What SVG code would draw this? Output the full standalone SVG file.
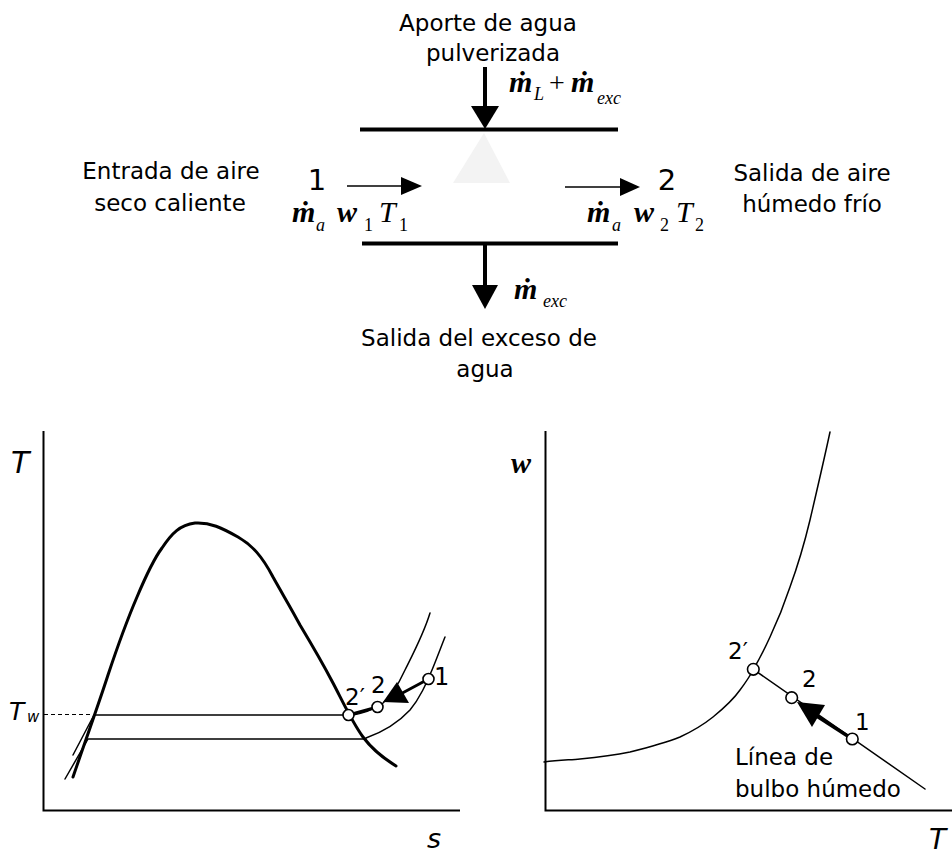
<svg xmlns="http://www.w3.org/2000/svg" width="952" height="855" viewBox="0 0 952 855">
<style>
.lbl{font-family:"DejaVu Sans","Liberation Sans",sans-serif;font-size:23px;fill:#000}
.num{font-family:"DejaVu Sans","Liberation Sans",sans-serif;font-size:29px;fill:#000}
.pt{font-family:"DejaVu Sans","Liberation Sans",sans-serif;font-size:23px;fill:#000}
.ax{font-family:"DejaVu Sans","Liberation Sans",sans-serif;font-style:italic;fill:#000}
.mb{font-family:"Liberation Serif","DejaVu Serif",serif;font-style:italic;font-weight:bold;font-size:30px;fill:#000}
.mi{font-family:"Liberation Serif","DejaVu Serif",serif;font-style:italic;font-size:18px;fill:#000}
.mr{font-family:"Liberation Serif","DejaVu Serif",serif;font-size:18px;fill:#000}
.thick{fill:none;stroke:#000;stroke-width:4}
.axis{fill:none;stroke:#000;stroke-width:2}
.thin{fill:none;stroke:#000;stroke-width:1.5;stroke-linejoin:round;stroke-linecap:round}
.heavy{fill:none;stroke:#000;stroke-width:3;stroke-linejoin:round;stroke-linecap:round}
.dot{fill:#fff;stroke:#000;stroke-width:1.6}
.head{fill:#000;stroke:none}
</style>

<!-- Top: humidifier scheme -->
<g id="humidifier">
  <polygon points="484,133 453,183 510,183" fill="#f3f3f3"/>
  <line class="thick" x1="360" y1="129.5" x2="618" y2="129.5"/>
  <line class="thick" x1="362" y1="243.5" x2="618" y2="243.5"/>
</g>

<g id="connectors">
  <line x1="485" y1="67" x2="485" y2="108" stroke="#000" stroke-width="4"/>
  <polygon class="head" points="471,106 499,106 485,129"/>
  <line x1="485" y1="243" x2="485" y2="287" stroke="#000" stroke-width="4"/>
  <polygon class="head" points="472,285 498,285 485,309"/>
  <line x1="347" y1="186" x2="403" y2="186" stroke="#000" stroke-width="1.5"/>
  <polygon class="head" points="401,177 422,186 401,195"/>
  <line x1="565" y1="187" x2="622" y2="187" stroke="#000" stroke-width="1.5"/>
  <polygon class="head" points="620,178 640,187 620,196"/>
</g>

<g id="label-aporte">
  <text class="lbl" x="488" y="31" text-anchor="middle">Aporte de agua</text>
  <text class="lbl" x="493" y="61" text-anchor="middle">pulverizada</text>
  <text class="mb" x="509" y="92">ṁ</text><text class="mi" x="534" y="100">L</text>
  <text class="mr" x="549" y="92" style="font-size:28px">+</text>
  <text class="mb" x="571" y="92">ṁ</text><text class="mi" x="597" y="104">exc</text>
</g>

<g id="label-entrada">
  <text class="lbl" x="171" y="179" text-anchor="middle">Entrada de aire</text>
  <text class="lbl" x="170" y="211" text-anchor="middle">seco caliente</text>
  <text class="num" x="317" y="190" text-anchor="middle">1</text>
  <text class="mb" x="292" y="222">ṁ</text><text class="mi" x="316" y="231">a</text>
  <text class="mb" x="337" y="222">w</text><text class="mr" x="364" y="231">1</text>
  <text class="mb" x="379" y="222" style="font-weight:normal">T</text><text class="mr" x="399" y="231">1</text>
</g>

<g id="label-salida">
  <text class="lbl" x="812" y="181" text-anchor="middle">Salida de aire</text>
  <text class="lbl" x="812" y="212" text-anchor="middle">húmedo frío</text>
  <text class="num" x="667" y="190" text-anchor="middle">2</text>
  <text class="mb" x="587" y="222">ṁ</text><text class="mi" x="612" y="231">a</text>
  <text class="mb" x="634" y="222">w</text><text class="mr" x="660" y="231">2</text>
  <text class="mb" x="676" y="222" style="font-weight:normal">T</text><text class="mr" x="695" y="231">2</text>
</g>

<g id="label-exceso">
  <text class="mb" x="514" y="299">ṁ</text><text class="mi" x="543" y="307">exc</text>
  <text class="lbl" x="479" y="346" text-anchor="middle">Salida del exceso de</text>
  <text class="lbl" x="485" y="377" text-anchor="middle">agua</text>
</g>

<!-- Bottom left: T-s diagram -->
<g id="ts-diagram">
  <path class="axis" d="M43.5,431 V810.5 H460"/>
  <text class="ax" x="11" y="473" style="font-size:30px">T</text>
  <text class="ax" x="427" y="848" style="font-size:27px">s</text>
  <text class="ax" x="9" y="720" style="font-size:25px">T</text>
  <text class="ax" x="27" y="722" style="font-size:15px">w</text>
  <line x1="44" y1="714.5" x2="93" y2="714.5" stroke="#000" stroke-width="1" stroke-dasharray="4,3"/>
  <path class="heavy" d="M73,777 C85,742 100,700 108,675 C118,645 128,618 137,597 C145,578 153,560 162,548 C172,533 180,525 195,523 C210,522 222,528 238,537 C252,545 262,556 273,577 C283,595 291,608 300,625 C312,645 322,662 333,683 C342,700 352,722 363,737 C372,749 383,758 396,766"/>
  <path class="thin" d="M73,755 L94,715 H348"/>
  <path class="thin" d="M65,779 L88,739 H366"/>
  <path class="thin" d="M349,716 C360,714 372,711 382,704 C392,696 399,683 405,670 C414,652 424,633 430,613"/>
  <path class="thin" d="M366,738 C380,733 397,724 410,710 C420,698 426,684 432,670 C437,658 441,647 445,637"/>
  <line class="heavy" x1="348.5" y1="715" x2="377.5" y2="707"/>
  <line class="heavy" x1="428.5" y1="679" x2="395" y2="697"/>
  <polygon class="head" points="383,702 397,682 409,703"/>
  <circle class="dot" cx="348.5" cy="715" r="5.5"/>
  <circle class="dot" cx="377.5" cy="707" r="5.5"/>
  <circle class="dot" cx="428.5" cy="679" r="5.5"/>
  <text class="pt" x="345" y="705">2′</text>
  <text class="pt" x="371" y="693">2</text>
  <text class="pt" x="434" y="685" style="font-size:24px">1</text>
</g>

<!-- Bottom right: w-T diagram -->
<g id="wt-diagram">
  <path class="axis" d="M545.5,431 V810.5 H952"/>
  <text class="mb" x="511" y="473">w</text>
  <text class="ax" x="929" y="849" style="font-size:28px">T</text>
  <path class="thin" d="M544,762 C560,760 570,760 580,759 C600,757 615,755 630,752 C650,747 665,743 680,737 C693,731 703,725 713,717 C724,708 733,700 740,690 C746,682 750,676 753,670 C760,658 765,648 770,637 C778,620 784,605 790,587 C798,565 804,545 810,520 C817,490 824,460 830,432"/>
  <line class="thin" x1="753.3" y1="669.3" x2="925" y2="789"/>
  <line x1="852.3" y1="739" x2="812" y2="713" stroke="#000" stroke-width="3.5"/>
  <polygon class="head" points="797,702 825,705 812,727"/>
  <circle class="dot" cx="753.3" cy="669.3" r="5.8"/>
  <circle class="dot" cx="791.7" cy="697.7" r="5.8"/>
  <circle class="dot" cx="852.3" cy="739" r="5.8"/>
  <text class="pt" x="728" y="659">2′</text>
  <text class="pt" x="802" y="687">2</text>
  <text class="pt" x="855" y="730">1</text>
  <text class="lbl" x="735" y="765">Línea de</text>
  <text class="lbl" x="735" y="797">bulbo húmedo</text>
</g>
</svg>
